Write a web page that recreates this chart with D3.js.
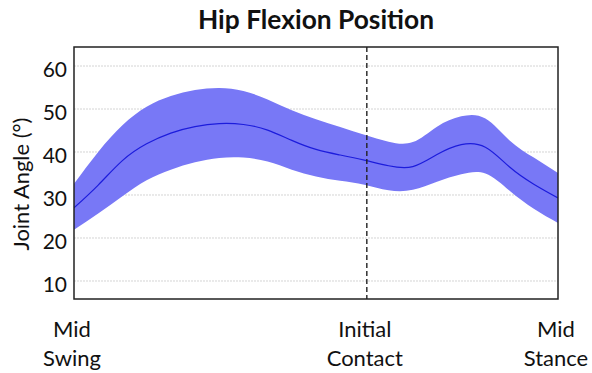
<!DOCTYPE html>
<html><head><meta charset="utf-8">
<script src="https://cdn.jsdelivr.net/npm/d3@7"></script>
<style>
html,body{margin:0;padding:0;background:#fff;}
svg{display:block;font-family:Lato,"Open Sans",sans-serif;}
</style></head>
<body><svg id="c" width="592" height="373"></svg>
<script>
// Gait cycle position (%) from Mid Swing (0) to Mid Stance (100)
const cyclePct = [0,5,10,15,20,25,30,35,40,45,50,55,60,65,70,75,80,85,90,95,100];
const meanAngle = [27.0,32.3,38.0,41.9,44.4,45.9,46.6,46.4,45.1,42.7,40.6,39.3,38.1,36.8,36.6,39.4,41.7,41.1,36.5,32.5,29.3];
const upperAngle = [32.6,40.0,46.2,50.5,53.0,54.4,54.9,54.2,52.2,49.7,47.6,45.8,44.0,42.4,42.3,45.9,48.3,47.8,42.7,38.7,35.1];
const lowerAngle = [21.9,25.7,29.7,33.4,35.9,37.6,38.6,38.7,37.8,35.9,34.3,33.3,32.4,31.1,31.2,33.1,34.8,35.0,31.0,26.8,23.5];
const yTicks = [10,20,30,40,50,60];
const phaseValues = [0,60.5,100];
const phaseLabels = [["Mid","Swing"],["Initial","Contact"],["Mid","Stance"]];
const initialContact = 60.5;
const titleText = "Hip Flexion Position";
const yTitle = "Joint Angle (°)";

const svg = d3.select("#c");
const L=74, R=558, T=47, B=299;
const x = d3.scaleLinear().domain([0,100]).range([L,R]);
const y = d3.scaleLinear().domain([5.81,64.42]).range([B,T]);

function fitWidth(sel, target){
  const n = sel.node();
  const fs = parseFloat(sel.attr("font-size"));
  const w = n.getComputedTextLength();
  if (w>0) sel.attr("font-size", (fs*target/w).toFixed(2));
}

// grid
svg.append("g").selectAll("line").data(yTicks).join("line")
  .attr("x1",L).attr("x2",R).attr("y1",d=>y(d)).attr("y2",d=>y(d))
  .attr("stroke","#d4d4d4").attr("stroke-width",1).attr("stroke-dasharray","2,1");

svg.append("clipPath").attr("id","clip").append("rect")
  .attr("x",L).attr("y",T).attr("width",R-L).attr("height",B-T);

const pts = cyclePct.map((p,i)=>({p, m:meanAngle[i], u:upperAngle[i], l:lowerAngle[i]}));
const curve = d3.curveNatural;
const area = d3.area().x(d=>x(d.p)).y0(d=>y(d.l)).y1(d=>y(d.u)).curve(curve);
const line = d3.line().x(d=>x(d.p)).y(d=>y(d.m)).curve(curve);
const g = svg.append("g").attr("clip-path","url(#clip)");
g.append("path").datum(pts).attr("d",area).attr("fill","#7878f6");
g.append("path").datum(pts).attr("d",line).attr("fill","none").attr("stroke","#1c1cdc").attr("stroke-width",1.2);

// initial contact dashed line
svg.append("line").attr("x1",x(initialContact)).attr("x2",x(initialContact))
  .attr("y1",T).attr("y2",B).attr("stroke","#222").attr("stroke-width",1.4)
  .attr("stroke-dasharray","5,3");

// frame
svg.append("rect").attr("x",L).attr("y",T).attr("width",R-L).attr("height",B-T)
  .attr("fill","none").attr("stroke","#222").attr("stroke-width",1.5);

// y tick labels
svg.append("g").selectAll("text").data(yTicks).join("text")
  .attr("x",L-7).attr("y",d=>y(d)+3.5).attr("dy","0.35em")
  .attr("text-anchor","end").attr("font-size",21).attr("fill","#111")
  .text(d=>d);

// y title
const yt = svg.append("text").attr("transform","translate(29,184) rotate(-90)")
  .attr("text-anchor","middle").attr("font-size",20).attr("fill","#111").text(yTitle);
fitWidth(yt, 133);

// title
const tt = svg.append("text").attr("x",(L+R)/2).attr("y",29).attr("text-anchor","middle")
  .attr("font-size",24).attr("font-weight","bold").attr("fill","#111").text(titleText);
fitWidth(tt, 236);

// phase labels
const pl = svg.append("g").selectAll("text").data(phaseValues).join("text")
  .attr("text-anchor","middle").attr("font-size",22).attr("fill","#111");
pl.each(function(d,i){
  const t = d3.select(this);
  phaseLabels[i].forEach((s,j)=>{
    t.append("tspan").attr("x",x(d)-2).attr("y",337+j*29).text(s);
  });
});
</script></body></html>
